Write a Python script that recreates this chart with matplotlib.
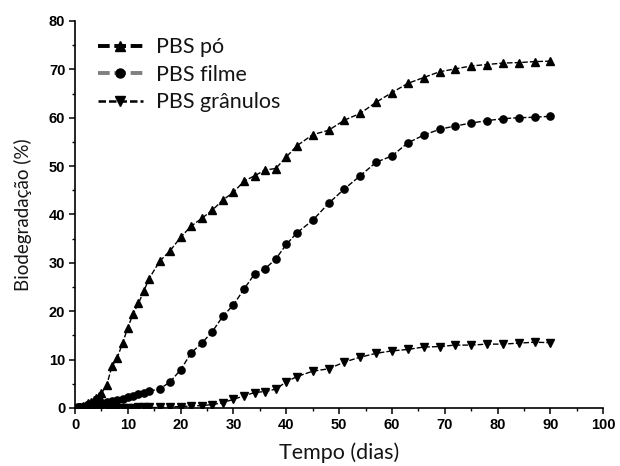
import matplotlib
matplotlib.use("Agg")
import matplotlib.pyplot as plt
from matplotlib.lines import Line2D
from matplotlib.ticker import MultipleLocator

# PBS po (up triangles)
po_days = [0, 0.5, 1, 1.5, 2, 2.5, 3, 3.5, 4, 4.5, 5, 6, 7, 8, 9, 10, 11, 12, 13, 14,
           16, 18, 20, 22, 24, 26, 28, 30, 32, 34, 36, 38, 40, 42,
           45, 48, 51, 54, 57, 60, 63, 66, 69, 72, 75, 78, 81, 84, 87, 90]
po_vals = [0, 0.2, 0.3, 0.5, 0.7, 1.0, 1.3, 1.7, 2.1, 2.5, 3.0, 4.8, 8.6, 10.4, 13.4, 16.6, 19.5, 21.6, 24.1, 26.7,
           30.3, 32.5, 35.3, 37.6, 39.2, 40.9, 43.0, 44.6, 46.9, 48.0, 49.2, 49.5, 51.9, 54.2,
           56.5, 57.4, 59.5, 60.9, 63.2, 65.2, 67.1, 68.3, 69.5, 70.1, 70.7, 71.0, 71.3, 71.4, 71.6, 71.7]

# PBS filme (circles)
filme_days = [0, 0.5, 1, 1.5, 2, 2.5, 3, 3.5, 4, 4.5, 5, 6, 7, 8, 9, 10, 11, 12, 13, 14,
              16, 18, 20, 22, 24, 26, 28, 30, 32, 34, 36, 38, 40, 42,
              45, 48, 51, 54, 57, 60, 63, 66, 69, 72, 75, 78, 81, 84, 87, 90]
filme_vals = [0, 0.1, 0.2, 0.3, 0.4, 0.5, 0.6, 0.7, 0.8, 0.9, 1.0, 1.2, 1.4, 1.6, 1.9, 2.2, 2.5, 2.8, 3.1, 3.5,
              3.9, 5.4, 7.9, 11.4, 13.4, 15.8, 19.0, 21.3, 24.6, 27.7, 28.8, 30.8, 33.8, 36.2,
              38.8, 42.3, 45.3, 48.0, 50.8, 52.1, 54.8, 56.4, 57.6, 58.3, 58.9, 59.4, 59.8, 60.0, 60.1, 60.3]

# PBS granulos (down triangles)
gran_days = [0, 1, 2, 3, 4, 5, 6, 7, 8, 9, 10, 11, 12, 13, 14,
             16, 18, 20, 22, 24, 26, 28, 30, 32, 34, 36, 38, 40, 42,
             45, 48, 51, 54, 57, 60, 63, 66, 69, 72, 75, 78, 81, 84, 87, 90]
gran_vals = [0, 0, 0, 0, 0, 0, 0, 0, 0, 0, 0, 0, 0.1, 0.1, 0.1,
             0.1, 0.2, 0.3, 0.4, 0.5, 0.7, 1.1, 1.8, 2.5, 3.2, 3.4, 3.9, 5.4, 6.5,
             7.6, 8.1, 9.5, 10.5, 11.3, 11.8, 12.1, 12.6, 12.7, 13.0, 13.0, 13.2, 13.2, 13.4, 13.6, 13.5]

labels = ["PBS pó", "PBS filme", "PBS grânulos"]

txt_font = ["Lato", "DejaVu Sans"]
txt_color = "#141414"

fig = plt.figure(figsize=(6.2, 4.66), dpi=100)
ax = fig.add_axes([0.121, 0.1245, 0.852, 0.8305])

dash = (0, (4, 1.5))
ax.plot(po_days, po_vals, color="black", lw=1.0, ls=dash, marker="^", ms=5.8)
ax.plot(filme_days, filme_vals, color="black", lw=1.0, ls=dash, marker="o", ms=5.2)
ax.plot(gran_days, gran_vals, color="black", lw=1.0, ls=dash, marker="v", ms=5.8)

ax.set_xlim(0, 100)
ax.set_ylim(0, 80)
ax.xaxis.set_major_locator(MultipleLocator(10))
ax.xaxis.set_minor_locator(MultipleLocator(5))
ax.yaxis.set_major_locator(MultipleLocator(10))
ax.yaxis.set_minor_locator(MultipleLocator(5))

for side in ["top", "right"]:
    ax.spines[side].set_visible(False)
for side in ["left", "bottom"]:
    ax.spines[side].set_linewidth(1.2)
ax.tick_params(which="major", direction="out", length=4, width=1.1, pad=3)
ax.tick_params(which="minor", direction="out", length=2.5, width=1.0)
for lab in ax.get_xticklabels() + ax.get_yticklabels():
    lab.set_fontfamily("Liberation Sans")
    lab.set_fontweight("bold")
    lab.set_fontsize(10.5)

ax.set_xlabel("Tempo (dias)", family=txt_font, fontsize=15.5, color=txt_color, labelpad=8)
ax.set_ylabel("Biodegradação (%)", family=txt_font, fontsize=13.5, color=txt_color, labelpad=12)

handles = [
    Line2D([], [], color="black", lw=2.8, ls=(0, (3, 1.2)), marker="^", ms=6.5),
    Line2D([], [], color="#808080", lw=2.8, ls=(0, (3, 1.2)), marker="o", ms=6.5, mfc="black", mec="black"),
    Line2D([], [], color="black", lw=1.8, ls=(0, (3, 1.2)), marker="v", ms=6.5),
]
ax.legend(handles, labels, loc="upper left", bbox_to_anchor=(0.006, 1.008), frameon=False,
          prop={"family": txt_font, "size": 15.5}, labelcolor=txt_color,
          handlelength=2.1, handletextpad=0.6, labelspacing=0.35)

fig.savefig("out.png", dpi=100)
